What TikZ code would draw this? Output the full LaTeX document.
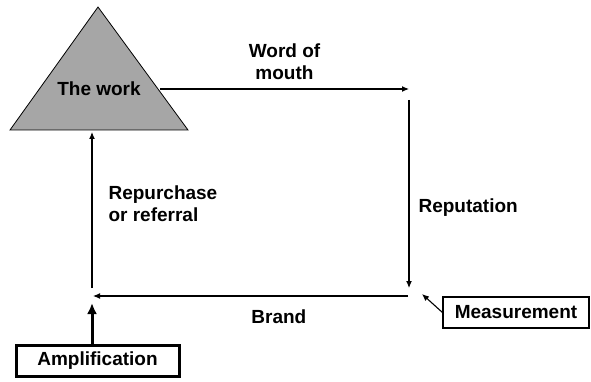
\documentclass[tikz,border=0pt]{standalone}
\usepackage{fontspec}
\setmainfont{Liberation Sans}
\usetikzlibrary{positioning,arrows.meta}

\begin{document}
\begin{tikzpicture}[x=1pt, y=-1pt, font=\fontsize{19}{21.5}\selectfont\bfseries, rel/.style={-{Latex[length=7pt,width=6pt]}, line width=1.1pt}, bigrel/.style={-{Latex[length=11pt,width=10pt]}, line width=3pt}, lbl/.style={inner sep=0pt, align=left}, box/.style={draw, line width=1.1pt, minimum height=31pt, inner sep=0pt}]
\useasboundingbox (0,0) rectangle (591,382);
\draw[fill=black!35, line width=0.8pt] (98,7) -- (188,130) -- (10,130) -- cycle;
\node[lbl] (work) at (99,88.5) {The work};
\coordinate (wout) at (160,89);
\coordinate (tr) at (409,89);
\coordinate (rtop) at (409,100);
\coordinate (rbot) at (409,288);
\coordinate (br) at (408,296);
\coordinate (bl) at (93,296);
\coordinate (lbot) at (92,288);
\coordinate (ltop) at (92,132);
\coordinate (mpt) at (422,294);
\coordinate (ampt) at (92,303);
\node[box, minimum width=146pt] (meas) at (516,312.5) {Measurement};
\node[box, line width=3pt, minimum width=163pt, minimum height=31pt] (amp) at (97.5,361) {Amplification};
\draw[rel] (wout) -- node[lbl, above=9pt, align=center]{Word of\\mouth} (tr);
\draw[rel] (rtop) -- node[lbl, pos=0.57, right=9pt]{Reputation} (rbot);
\draw[rel] (br) -- node[lbl, pos=0.41, below=13pt]{Brand} (bl);
\draw[rel] (lbot) -- node[lbl, pos=0.54, right=16pt]{Repurchase\\or referral} (ltop);
\draw[rel] (meas.west) -- (mpt);
\draw[bigrel] (ampt |- amp.north) -- (ampt);
\end{tikzpicture}
\end{document}
